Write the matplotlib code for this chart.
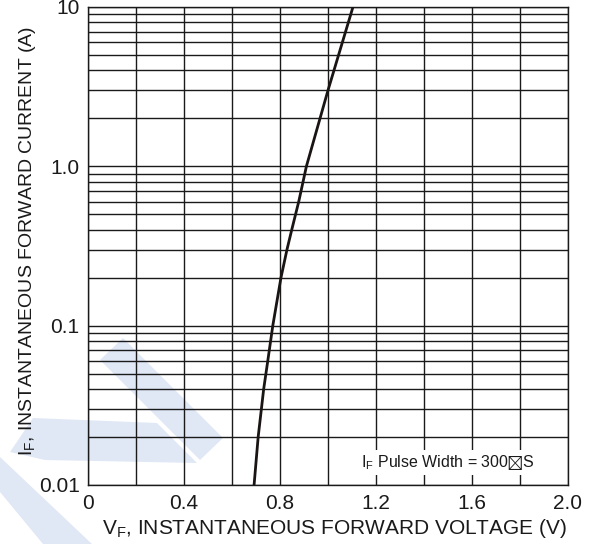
import matplotlib
matplotlib.use("Agg")
import matplotlib.pyplot as plt
from matplotlib.patches import Polygon
from matplotlib.ticker import FixedLocator, LogLocator, NullFormatter

plt.rcParams['font.family'] = ['Liberation Sans', 'DejaVu Sans']
plt.rcParams['mathtext.fontset'] = 'custom'
plt.rcParams['mathtext.rm'] = 'Liberation Sans'
plt.rcParams['mathtext.it'] = 'Liberation Sans'
plt.rcParams['mathtext.fallback'] = 'stix'

# Data
vf = [0.692, 0.709, 0.732, 0.749, 0.770, 0.804, 0.829, 0.849, 0.878, 0.910, 1.0, 1.104]
i_f = [0.01, 0.02, 0.04, 0.06, 0.1, 0.2, 0.3, 0.4, 0.6, 1.0, 3.0, 10.0]
xticks = [0, 0.4, 0.8, 1.2, 1.6, 2.0]
xtick_labels = ['0', '0.4', '0.8', '1.2', '1.6', '2.0']
yticks = [0.01, 0.1, 1.0, 10]
ytick_labels = ['0.01', '0.1', '1.0', '10']

W, H = 596, 544
fig = plt.figure(figsize=(W / 100, H / 100), dpi=100)

# light-blue watermark shapes (decoration)
wm = '#e0e8f5'
shapes = [
    [(100, 360), (123, 338), (223, 438), (200, 460)],
    [(33, 418), (157, 423), (197, 463), (45, 460), (10, 452)],
    [(0, 457), (0, 492), (43, 544), (92, 544)],
]
for s in shapes:
    pts = [(x / W, 1 - y / H) for x, y in s]
    fig.patches.append(Polygon(pts, closed=True, transform=fig.transFigure,
                               facecolor=wm, edgecolor='none', zorder=-5))

ax = fig.add_axes([88 / W, 1 - 485 / H, (568 - 88) / W, (485 - 7) / H])
ax.set_zorder(2)
ax.set_facecolor('none')
ax.set_yscale('log')
ax.set_xlim(0, 2.0)
ax.set_ylim(0.01, 10)

ax.xaxis.set_major_locator(FixedLocator(xticks))
ax.set_xticklabels(xtick_labels)
ax.xaxis.set_minor_locator(FixedLocator([0.2, 0.6, 1.0, 1.4, 1.8]))
ax.yaxis.set_major_locator(FixedLocator(yticks))
ax.set_yticklabels(ytick_labels)
ax.yaxis.set_minor_locator(LogLocator(base=10, subs=range(2, 10)))
ax.yaxis.set_minor_formatter(NullFormatter())

ax.grid(True, which='both', color='#1a1a1a', linewidth=1.0)
ax.set_axisbelow(True)
ax.tick_params(which='both', length=0, labelsize=15, colors='#1a1a1a')
ax.tick_params(axis='x', pad=6.5)
ax.tick_params(axis='y', pad=6)
for sp in ax.spines.values():
    sp.set_color('#1a1a1a')
    sp.set_linewidth(1.0)

ax.plot(vf, i_f, color='#1a1414', linewidth=2.0, zorder=3)

ax.text(1.5, 0.0138, r'I$_\mathrm{F}$ Pulse Width = 300$\boxtimes$S', ha='center', va='center',
        fontsize=11.5, color='#1a1a1a', zorder=4,
        bbox=dict(facecolor='white', edgecolor='none', pad=2))

ax.set_xlabel(r'V$_\mathrm{F}$, INSTANTANEOUS FORWARD VOLTAGE (V)', fontsize=15,
              color='#1a1a1a')
ax.set_ylabel(r'I$_\mathrm{F}$, INSTANTANEOUS FORWARD CURRENT (A)', fontsize=14,
              color='#1a1a1a')
ax.xaxis.set_label_coords((334.5 - 88) / 480, (485 - 517) / 478)
ax.yaxis.set_label_coords((38 - 88) / 480, (485 - 240.5) / 478)

fig.savefig('out.png', dpi=100, facecolor='white')
